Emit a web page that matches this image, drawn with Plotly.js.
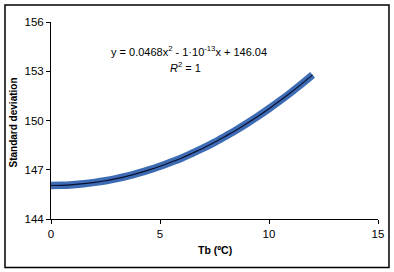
<!DOCTYPE html>
<html><head><meta charset="utf-8">
<script src="https://cdn.plot.ly/plotly-3.0.1.min.js"></script>
<style>html,body{margin:0;padding:0;background:#fff}#c{width:394px;height:272px}</style>
</head><body><div id="c"></div>
<script>
var tb = [0,0.5,1,1.5,2,2.5,3,3.5,4,4.5,5,5.5,6,6.5,7,7.5,8,8.5,9,9.5,10,10.5,11,11.5,12];
var sd = [146.04,146.05,146.09,146.15,146.23,146.33,146.46,146.61,146.79,146.99,147.21,147.46,147.72,148.02,148.33,148.67,149.04,149.42,149.83,150.26,150.72,151.20,151.70,152.23,152.78];
var xTicks = [0,5,10,15];
var yTicks = [144,147,150,153,156];
var eqText = 'y = 0.0468x<sup>2</sup> - 1·10<sup>-13</sup>x + 146.04';
var r2Text = '<i>R</i><sup>2</sup> = 1';
var xTitle = 'Tb (ºC)';
var yTitle = 'Standard deviation';

var F = '"Liberation Sans Narrow", "Arial Narrow", "Liberation Sans", sans-serif';
var data = [
  {x: tb, y: sd, mode: 'lines', line: {color: '#3d6cb4', width: 7.5, shape: 'spline'}, hoverinfo: 'skip', showlegend: false},
  {x: tb, y: sd, mode: 'lines', line: {color: '#0a1030', width: 1.2, shape: 'spline'}, hoverinfo: 'skip', showlegend: false}
];
var layout = {
  width: 394, height: 272,
  margin: {l: 51, r: 16, t: 22, b: 53},
  paper_bgcolor: '#fff', plot_bgcolor: '#fff',
  font: {family: F, size: 11, color: '#000'},
  xaxis: {range: [0, 15], tickvals: xTicks, ticktext: xTicks.map(String), showgrid: false, zeroline: false,
    showline: true, linecolor: '#000', linewidth: 1, ticks: 'outside', ticklen: 4, tickcolor: '#000',
    tickfont: {family: F, size: 11.5}},
  yaxis: {range: [144, 156], tickvals: yTicks, ticktext: yTicks.map(String), showgrid: false, zeroline: false,
    showline: true, linecolor: '#000', linewidth: 1, ticks: 'outside', ticklen: 4, tickcolor: '#000',
    tickfont: {family: F, size: 11.5}},
  shapes: [{type: 'rect', xref: 'paper', yref: 'paper', x0: -0.1407, x1: 1.0336, y0: -0.2462, y1: 1.0863,
    line: {color: '#000', width: 1.5}, fillcolor: 'rgba(0,0,0,0)', layer: 'above'}],
  annotations: [
    {xref: 'x', yref: 'y', x: 6.35, y: 154.23, text: eqText, showarrow: false, font: {family: F, size: 11}},
    {xref: 'x', yref: 'y', x: 6.15, y: 153.28, text: r2Text, showarrow: false, font: {family: F, size: 11}},
    {xref: 'paper', yref: 'paper', x: (215 - 51) / 327, y: (219 - 250) / 197, text: '<b>' + xTitle + '</b>',
      showarrow: false, xanchor: 'center', yanchor: 'middle', font: {family: F, size: 10.5}},
    {xref: 'paper', yref: 'paper', x: (13 - 51) / 327, y: (219 - 122.5) / 197, text: '<b>' + yTitle + '</b>',
      showarrow: false, xanchor: 'center', yanchor: 'middle', textangle: -90, font: {family: F, size: 10}}
  ]
};
Plotly.newPlot('c', data, layout, {displayModeBar: false, staticPlot: true});
</script></body></html>
